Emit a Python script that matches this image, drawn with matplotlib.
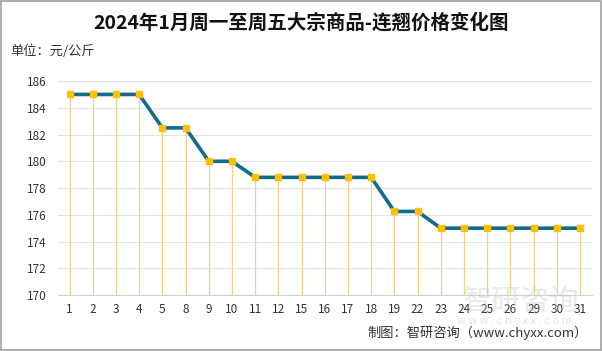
import matplotlib
matplotlib.use("Agg")
import matplotlib.pyplot as plt
from matplotlib.patches import Rectangle

plt.rcParams['font.family'] = ['Noto Sans CJK SC', 'DejaVu Sans']

days = ["1", "2", "3", "4", "5", "8", "9", "10", "11", "12", "15", "16", "17",
        "18", "19", "22", "23", "24", "25", "26", "29", "30", "31"]
prices = [185, 185, 185, 185, 182.5, 182.5, 180, 180, 178.8, 178.8, 178.8, 178.8,
          178.8, 178.8, 176.25, 176.25, 175, 175, 175, 175, 175, 175, 175]
y_ticks = [170, 172, 174, 176, 178, 180, 182, 184, 186]

title = "2024年1月周一至周五大宗商品-连翘价格变化图"
unit = "单位：元/公斤"
source = "制图：智研咨询（www.chyxx.com）"

fig = plt.figure(figsize=(6.02, 3.51), dpi=100)
ax = fig.add_axes([0.0963, 0.1595, 0.8864, 0.6095])

x = list(range(len(days)))
ax.vlines(x, 170, prices, colors="#F5D08A", linewidth=0.9, zorder=2)
ax.plot(x, prices, color="#146A8A", linewidth=2.6, zorder=3,
        marker="s", markersize=5, markerfacecolor="#FFC000",
        markeredgecolor="#FFC000")

ax.set_xlim(-0.5, len(days) - 0.5)
ax.set_ylim(170, 186)
ax.set_yticks(y_ticks)
ax.set_xticks(x)
ax.set_xticklabels(days)
ax.grid(axis="y", color="#E3E3E3", linewidth=0.8, zorder=0)
ax.set_axisbelow(True)
for s in ["top", "right", "left"]:
    ax.spines[s].set_visible(False)
ax.spines["bottom"].set_color("#D0D0D0")
ax.tick_params(axis="both", length=0, labelsize=8.5, colors="#333333", pad=6)
ax.tick_params(axis="y", pad=8)

fig.text(0.5, 0.935, title, ha="center", va="center", fontsize=14,
         fontweight="bold", color="#111111")
fig.text(0.017, 0.855, unit, ha="left", va="center", fontsize=9.5, color="#333333")
fig.text(0.977, 0.052, source, ha="right", va="center", fontsize=9.5, color="#333333")

# faint watermark
fig.text(0.865, 0.14, "智研咨询", ha="center", va="center", fontsize=21,
         color="#C8C8C8", alpha=0.4, zorder=10)
fig.text(0.855, 0.085, "w w w . c h y x x . c o m", ha="center", va="center",
         fontsize=8, color="#C8C8C8", alpha=0.45, zorder=10)

fig.patches.append(Rectangle((0.001, 0.002), 0.997, 0.995, transform=fig.transFigure,
                             fill=False, edgecolor="#A0A0A0", linewidth=1.2))

fig.savefig("out.png", dpi=100)
